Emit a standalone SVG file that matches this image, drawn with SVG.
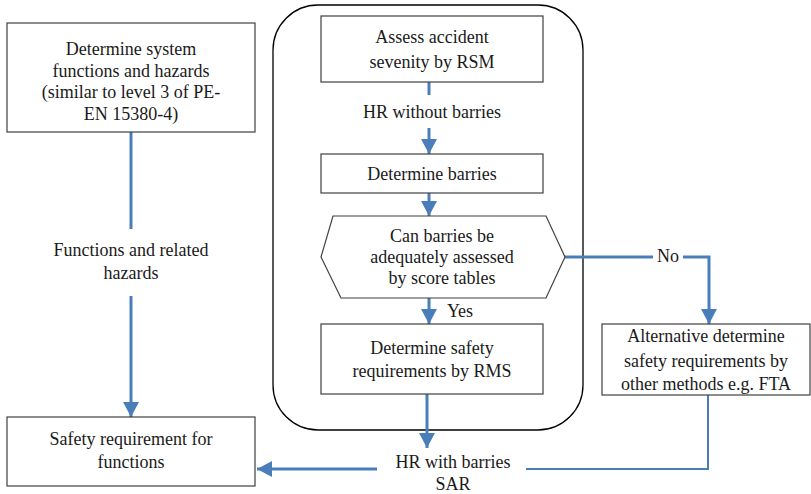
<svg xmlns="http://www.w3.org/2000/svg" width="811" height="494" viewBox="0 0 811 494">
<style>
.box{fill:#fff;stroke:#404040;stroke-width:1.2}
.cont{fill:none;stroke:#000;stroke-width:1.3}
.t text{font-family:'Liberation Serif',serif;font-size:18px;fill:#1a1a1a;text-anchor:middle}
.ln{fill:none;stroke:#4a7ebb;stroke-width:3}
.thin{fill:none;stroke:#4a7ebb;stroke-width:2}
</style>
<defs>
<marker id="ah" markerUnits="userSpaceOnUse" markerWidth="16" markerHeight="16" viewBox="0 0 16 16" refX="15" refY="8" orient="auto">
<path d="M0,0 L15,8 L0,16 Z" fill="#4a7ebb"/>
</marker>
</defs>
<rect class="cont" x="273" y="5" width="310" height="425" rx="45" ry="45"/>
<g id="connectors">
<path class="ln" d="M131,132 V229"/>
<path class="ln" d="M131,296 V417" marker-end="url(#ah)"/>
<path class="ln" d="M429,82 V95"/>
<path class="ln" d="M429,128 V154" marker-end="url(#ah)"/>
<path class="ln" d="M429,193 V216" marker-end="url(#ah)"/>
<path class="ln" d="M429,298 V324" marker-end="url(#ah)"/>
<path class="ln" d="M427,394 V448" marker-end="url(#ah)"/>
<path class="ln" d="M565,257 H653"/>
<path class="ln" d="M683,257 H709 V324" marker-end="url(#ah)"/>
<path class="thin" d="M708,395 V469 H526"/>
<path class="ln" d="M377,469 H257" marker-end="url(#ah)"/>
</g>
<g class="t">
<g id="n1">
<rect class="box" x="7" y="23" width="248" height="109"/>
<text x="131" y="55">Determine system</text>
<text x="131" y="77">functions and hazards</text>
<text x="131" y="98">(similar to level 3 of PE-</text>
<text x="131" y="120">EN 15380-4)</text>
</g>
<g id="n2">
<rect class="box" x="321" y="16" width="222" height="66"/>
<text x="432" y="43">Assess accident</text>
<text x="432" y="68">sevenity by RSM</text>
</g>
<g id="l1"><text x="432" y="118">HR without barries</text></g>
<g id="n3">
<rect class="box" x="321" y="154" width="222" height="39"/>
<text x="432" y="180">Determine barries</text>
</g>
<g id="n4">
<polygon class="box" points="333,216 546,216 565,257 546,298 341,298 321,257"/>
<text x="442" y="242">Can barries be</text>
<text x="442" y="263">adequately assessed</text>
<text x="442" y="284">by score tables</text>
</g>
<g id="l2"><text x="460" y="317">Yes</text></g>
<g id="l3"><text x="668" y="262">No</text></g>
<g id="n5">
<rect class="box" x="321" y="324" width="222" height="70"/>
<text x="432" y="354">Determine safety</text>
<text x="432" y="377">requirements by RMS</text>
</g>
<g id="n6">
<rect class="box" x="602" y="324" width="208" height="71"/>
<text x="706" y="342">Alternative determine</text>
<text x="706" y="367">safety requirements by</text>
<text x="706" y="390">other methods e.g. FTA</text>
</g>
<g id="n7">
<text x="453" y="468">HR with barries</text>
<text x="453" y="490">SAR</text>
</g>
<g id="l4">
<text x="131" y="256">Functions and related</text>
<text x="131" y="279">hazards</text>
</g>
<g id="n8">
<rect class="box" x="7" y="417" width="248" height="69"/>
<text x="131" y="445">Safety requirement for</text>
<text x="131" y="468">functions</text>
</g>
</g>
</svg>
